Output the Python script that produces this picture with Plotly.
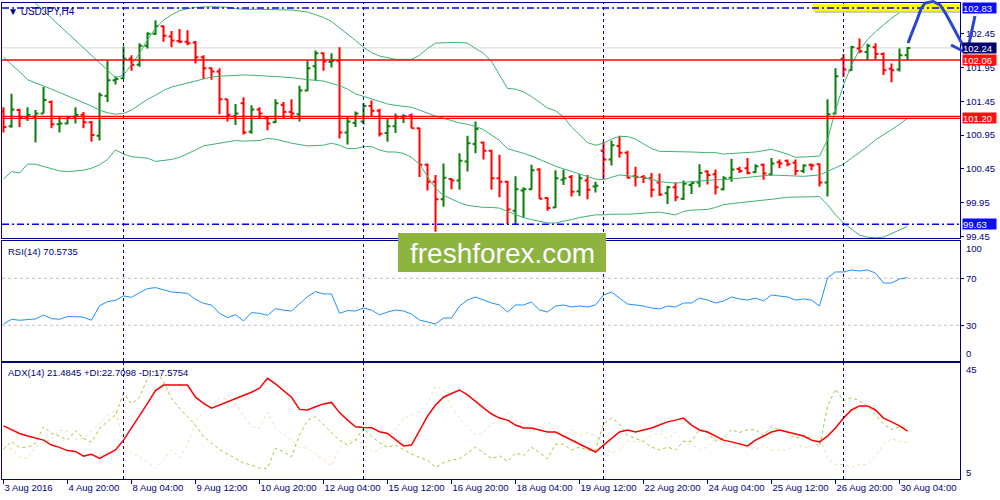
import plotly.graph_objects as go

# ---------------- data ----------------
tick_labels = ["3 Aug 2016", "4 Aug 20:00", "8 Aug 04:00", "9 Aug 12:00", "10 Aug 20:00",
               "12 Aug 04:00", "15 Aug 12:00", "16 Aug 20:00", "18 Aug 04:00", "19 Aug 12:00",
               "22 Aug 20:00", "24 Aug 04:00", "25 Aug 12:00", "26 Aug 20:00", "30 Aug 04:00"]
week_start_bars = [15, 45, 75, 105]

opens = [101.30,101.08,101.32,101.20,101.22,101.27,101.44,101.11,101.12,101.22,
         101.25,101.14,100.94,101.53,101.76,101.79,102.08,101.99,102.27,102.45,
         102.56,102.41,102.34,102.33,102.32,102.10,101.94,101.89,101.48,101.23,
         101.42,101.00,101.33,101.20,101.14,101.40,101.29,101.26,101.61,101.97,
         102.16,102.03,102.05,100.99,101.13,101.15,101.38,101.31,100.98,101.08,
         101.22,101.24,101.05,100.51,100.26,100.00,100.30,100.28,100.56,100.82,
         100.84,100.72,100.31,100.26,99.83,100.13,100.15,100.44,100.02,99.88,
         100.29,100.33,100.12,100.28,100.19,100.72,100.59,100.79,100.69,100.34,
         100.33,100.31,100.25,100.09,100.18,100.01,100.21,100.25,100.41,100.37,
         100.15,100.32,100.45,100.46,100.40,100.51,100.37,100.55,100.57,100.54,
         100.42,100.51,100.52,100.25,101.27,102.08,101.91,102.23,102.18,102.25,
         102.15,101.93,101.92,102.13]
highs = [101.36,101.56,101.34,101.36,101.32,101.66,101.46,101.22,101.22,101.36,
         101.29,101.16,101.58,102.05,101.82,102.26,102.13,102.31,102.47,102.65,
         102.57,102.49,102.52,102.50,102.34,102.13,101.95,101.94,101.48,101.41,
         101.51,101.39,101.36,101.23,101.48,101.44,101.48,101.68,102.05,102.20,
         102.17,102.16,102.25,101.22,101.30,101.42,101.46,101.34,101.19,101.27,
         101.26,101.27,101.06,100.53,100.36,100.53,100.31,100.68,100.94,101.15,
         100.85,100.73,100.66,100.27,100.34,100.18,100.51,100.46,100.03,100.43,
         100.44,100.36,100.37,100.36,100.26,100.85,100.87,100.94,100.72,100.48,
         100.36,100.39,100.38,100.20,100.25,100.28,100.25,100.52,100.43,100.44,
         100.34,100.60,100.48,100.61,100.52,100.53,100.61,100.59,100.59,100.59,
         100.52,100.53,100.53,101.48,101.94,102.15,102.27,102.38,102.30,102.31,
         102.17,102.01,102.23,102.25]
lows = [100.99,101.06,101.07,101.16,100.84,101.27,101.05,100.99,101.11,101.12,
        101.05,100.85,100.87,101.44,101.70,101.78,101.90,101.96,102.23,102.43,
        102.33,102.25,102.31,102.28,102.01,101.78,101.77,101.26,101.15,101.10,
        100.96,100.97,101.19,101.02,101.13,101.19,101.19,101.15,101.60,101.75,
        101.90,101.95,100.90,100.81,101.07,101.11,101.23,100.93,100.85,100.98,
        101.13,101.05,100.33,100.13,99.52,99.89,100.15,100.14,100.41,100.68,
        100.59,100.14,100.03,99.63,99.63,99.73,100.14,100.01,99.83,99.87,
        100.21,100.04,100.05,100.00,100.10,100.30,100.50,100.62,100.31,100.19,
        100.24,100.03,100.05,99.93,99.97,99.99,100.08,100.18,100.22,100.07,
        100.13,100.26,100.39,100.37,100.39,100.29,100.35,100.46,100.49,100.36,
        100.39,100.43,100.19,100.04,101.26,101.81,101.90,102.16,102.06,102.07,
        101.84,101.73,101.89,102.06]
closes = [101.07,101.33,101.21,101.25,101.27,101.47,101.11,101.12,101.21,101.25,
          101.14,100.95,101.54,101.76,101.78,102.08,101.99,102.27,102.45,102.56,
          102.42,102.35,102.33,102.31,102.10,101.94,101.89,101.48,101.25,101.27,
          100.99,101.33,101.27,101.12,101.42,101.29,101.27,101.61,101.94,102.16,
          102.04,102.05,100.99,101.15,101.27,101.38,101.31,100.97,101.08,101.22,
          101.23,101.05,100.51,100.26,100.00,100.32,100.28,100.57,100.83,101.04,
          100.72,100.31,100.26,99.85,100.15,100.15,100.43,100.01,99.87,100.31,
          100.31,100.11,100.31,100.14,100.20,100.59,100.80,100.69,100.32,100.33,
          100.32,100.14,100.07,100.18,100.03,100.23,100.24,100.39,100.36,100.18,
          100.31,100.44,100.42,100.39,100.49,100.38,100.53,100.53,100.52,100.42,
          100.50,100.50,100.25,101.26,101.82,101.92,102.25,102.19,102.27,102.15,
          101.91,101.91,102.13,102.24]

bb_up_x = [0,2,4,6,8,10,12,13,14,15,16,17,18,19,20,21,22,23,24,26,28,29,30,32,34,36,38,40,
           41,42,43,44,45,46,47,48,49,50,51,52,53,54,55,56,57,58,59,60,61,62,63,64,65,66,67,
           68,69,70,71,72,73,74,75,76,77,78,79,80,81,82,84,86,88,89,90,92,94,96,98,99,100,101,
           102,103,104,105,106,107,108,109,110,111,112,113]
bb_up = [103.92,103.39,102.90,102.68,102.46,102.23,102.01,101.91,101.80,101.84,101.99,102.16,
         102.36,102.53,102.65,102.73,102.79,102.82,102.84,102.85,102.84,102.82,102.81,102.81,
         102.81,102.80,102.77,102.69,102.63,102.54,102.45,102.35,102.25,102.17,102.12,102.09,
         102.07,102.07,102.07,102.13,102.23,102.31,102.32,102.32,102.32,102.31,102.23,102.16,
         102.04,101.84,101.64,101.63,101.59,101.52,101.44,101.35,101.31,101.22,101.07,100.95,
         100.84,100.80,100.83,100.89,100.93,100.93,100.89,100.82,100.75,100.71,100.71,100.70,
         100.69,100.69,100.67,100.68,100.70,100.74,100.67,100.62,100.63,100.64,100.64,100.88,
         101.32,101.69,101.99,102.21,102.36,102.48,102.58,102.68,102.76,102.84]
bb_mid_x = list(range(0, 30)) + [30,32,34,36,38,40,42] + list(range(43, 90)) + \
           [90,92,94,96,98,100,102] + list(range(103, 114))
bb_mid = [102.11,101.99,101.89,101.77,101.72,101.68,101.63,101.58,101.53,101.49,
          101.44,101.38,101.32,101.28,101.26,101.27,101.32,101.40,101.48,101.54,
          101.61,101.66,101.69,101.73,101.76,101.79,101.81,101.82,101.83,101.83,
          101.84,101.83,101.82,101.80,101.77,101.75,101.68,
          101.63,101.56,101.52,101.48,101.44,101.41,101.39,101.38,101.36,101.32,101.27,101.23,
          101.20,101.16,101.13,101.11,101.08,
          101.03,100.95,100.87,100.75,100.72,100.68,100.64,100.59,100.53,100.49,
          100.45,100.41,100.37,100.33,100.30,100.29,100.33,100.36,100.35,100.33,
          100.32,100.30,100.26,100.25,100.24,100.25,100.26,100.28,100.29,100.29,
          100.29,100.31,100.33,100.36,100.35,100.34,100.36,
          100.41,100.46,100.52,100.61,100.69,100.78,100.88,100.95,101.03,101.11,101.20]
bb_lo_x = list(range(0, 30)) + [30,32,33,34,36,38,40,41,42] + list(range(43, 77)) + \
          [78,80,82,84,85,86,87,88,89,90,92,94,96,98,100,101,102] + list(range(103, 114))
bb_lo = [100.30,100.41,100.39,100.52,100.52,100.49,100.45,100.42,100.41,100.42,
         100.43,100.46,100.51,100.59,100.73,100.67,100.63,100.62,100.61,100.56,
         100.57,100.59,100.62,100.67,100.73,100.79,100.81,100.82,100.84,100.87,
         100.86,100.87,100.90,100.89,100.83,100.79,100.80,100.83,100.80,
         100.75,100.75,100.78,100.78,100.73,100.70,100.70,100.68,100.62,100.52,100.33,
         100.16,100.06,100.00,99.95,99.91,99.89,
         99.88,99.88,99.87,99.82,99.77,99.73,99.70,99.67,99.65,99.65,99.67,99.70,
         99.73,99.75,99.77,99.77,99.78,
         99.78,99.79,99.81,99.77,99.82,99.84,99.85,99.85,99.88,
         99.92,99.95,99.97,100.00,100.03,100.04,100.04,100.04,
         99.92,99.77,99.65,99.56,99.47,99.44,99.43,99.44,99.49,99.54,99.60]

rsi = [31.1,35.1,34.3,34.8,35.4,38.8,35.7,35.1,37.4,37.4,36.8,34.3,46.7,50.1,51.3,55.0,
       53.8,57.8,61.2,62.1,60.1,58.4,57.8,57.2,52.1,48.7,47.3,40.2,36.5,39.1,33.7,40.8,
       40.2,38.5,44.2,42.8,42.2,48.2,54.4,58.7,56.7,56.7,40.2,42.5,
       42.2,44.7,43.0,38.8,41.3,43.0,42.2,39.6,34.5,32.8,
       31.1,36.2,36.2,46.4,51.5,54.1,51.5,49.0,47.3,41.3,
       47.3,47.3,49.8,43.0,41.3,46.4,47.3,45.6,46.4,45.6,
       47.3,55.8,58.3,53.2,48.1,47.3,46.4,44.7,43.9,46.4,
       45.6,49.0,49.0,53.2,51.5,49.0,50.7,54.1,52.4,51.5,
       53.2,50.7,55.8,54.9,54.1,51.5,52.4,51.5,46.4,70.3,
       75.4,75.4,77.1,76.2,77.1,74.5,66.0,66.0,69.4,70.57]
adx = [23.3,22.1,20.7,19.8,19.2,18.4,16.7,15.9,14.8,14.5,12.9,13.5,12.1,13.6,15.0,18.4,
       22.5,26.7,31.1,35.5,37.4,37.4,37.4,37.4,33.2,31.1,29.4,30.5,31.7,32.8,34.0,34.9,
       36.3,39.7,37.8,35.5,33.2,29.0,28.8,29.9,30.9,31.4,27.9,25.3,23.0,22.8,22.7,21.3,
       20.7,18.6,16.4,16.7,21.7,26.7,30.5,33.2,34.5,
       35.7,34.0,31.6,29.5,27.4,26.0,25.3,23.6,22.6,22.6,
       21.9,21.2,21.2,19.8,18.4,17.1,15.7,14.3,16.7,19.1,
       21.2,21.9,21.2,21.9,22.6,23.6,24.7,25.3,26.0,23.6,
       21.9,21.2,19.8,18.4,17.8,17.1,16.4,18.4,19.8,21.2,
       21.9,21.2,20.5,19.8,18.4,17.8,19.8,22.6,26.0,28.8,
       30.2,30.2,28.8,26.0,24.7,23.3,21.48]
plus_di = [15.2,17.9,15.9,15.9,17.3,23.0,20.7,19.8,18.4,21.7,19.0,17.7,22.5,24.8,27.1,34.5,
           30.9,33.2,39.7,42.6,38.6,32.8,29.4,26.5,23.6,19.6,17.3,15.2,13.6,12.1,10.6,9.8,
           8.7,8.7,15.6,14.4,12.7,20.2,25.3,26.5,23.6,21.0,18.4,16.7,18.4,22.5,19.8,17.5,
           15.9,16.7,15.2,13.6,12.4,11.5,9.0,10.6,11.5,
           12,14,16,14,12,13,11,14,13,16,
           14,12,17,17,15,16,15,15,24,26,
           24,20,19,18,16,15,16,15,18,18,
           22,21,18,19,22,21,22,22,20,23,
           22,21,19,20,19,16,30,36,32,33,
           32,30,27,24,22,23,22.71]
minus_di = [16.4,15.2,12.7,12.1,16.1,17.5,18.6,21.9,21.4,18.8,18.9,21.9,24.2,26.9,28.8,17.9,
            13.8,12.7,11.0,8.7,11.5,15.0,12.4,16.7,25.3,27.9,30.2,32.8,32.6,31.1,26.7,23.0,
            22.5,28.0,22.5,20.5,18.4,15.9,15.6,13.8,11.5,9.5,15.9,18.4,18.4,17.1,14.4,15.0,
            19.8,21.9,25.9,27.1,28.2,31.1,37.1,35.7,29.9,
            26,23,20,21,24,25,28,25,24,21,
            23,25,21,20,22,20,21,20,16,14,
            15,18,18,18,20,21,19,21,18,17,
            15,16,19,18,16,16,16,15,17,15,
            15,15,17,16,16,20,12,10,10,9,
            10,10,13,17,19,18,17.58]

price_ticks = [102.45, 101.95, 101.45, 100.95, 100.45, 99.95, 99.45]
level_high = 102.83
level_low = 99.63
level_res = 102.06
level_sup = 101.20
last_price = 102.24

# ---------------- styling ----------------
NAVY = "#000080"
GREEN = "#0b7d0b"
RED = "#ff0000"
BAND = "#3cb371"
FONT = "Liberation Sans"
bars = list(range(len(closes)))

# pixel geometry (figure 1000x500)
ML, MR, MT, MB = 2, 40, 3, 21
PW = 1000 - ML - MR
PH = 500 - MT - MB


def px(xp):
    return (xp - ML) / PW


def py(yp):
    return (500 - MB - yp) / PH


fig = go.Figure()

fig.add_trace(go.Ohlc(x=bars, open=opens, high=highs, low=lows, close=closes,
                      xaxis="x", yaxis="y", tickwidth=0.36,
                      increasing=dict(line=dict(color=GREEN, width=2)),
                      decreasing=dict(line=dict(color=RED, width=2)),
                      hoverinfo="skip", showlegend=False))
for bx, by in [(bb_up_x, bb_up), (bb_mid_x, bb_mid), (bb_lo_x, bb_lo)]:
    fig.add_trace(go.Scatter(x=bx, y=by, mode="lines", line=dict(color=BAND, width=1),
                             xaxis="x", yaxis="y", hoverinfo="skip", showlegend=False))

fig.add_trace(go.Scatter(x=bars, y=rsi, mode="lines", line=dict(color="#1e90ff", width=1),
                         xaxis="x2", yaxis="y2", hoverinfo="skip", showlegend=False))

fig.add_trace(go.Scatter(x=bars, y=minus_di, mode="lines",
                         line=dict(color="#f5deb3", width=1, dash="3px,3px"),
                         xaxis="x3", yaxis="y3", hoverinfo="skip", showlegend=False))
fig.add_trace(go.Scatter(x=bars, y=plus_di, mode="lines",
                         line=dict(color="#9acd32", width=1, dash="3px,3px"),
                         xaxis="x3", yaxis="y3", hoverinfo="skip", showlegend=False))
fig.add_trace(go.Scatter(x=bars, y=adx, mode="lines", line=dict(color=RED, width=1.5),
                         xaxis="x3", yaxis="y3", hoverinfo="skip", showlegend=False))

xr = [-(3.5 - ML) / 8.0, (1000 - MR - 3.5) / 8.0]
common_x = dict(range=xr, showgrid=False, zeroline=False, showline=True, mirror=True,
                linecolor=NAVY, linewidth=1, fixedrange=True, automargin=False)
common_y = dict(showgrid=False, zeroline=False, showline=True, mirror=True, linecolor=NAVY,
                linewidth=1, side="right", ticks="outside", ticklen=3, tickcolor=NAVY,
                tickfont=dict(family=FONT, size=9.5, color=NAVY), fixedrange=True,
                automargin=False)

fig.update_layout(
    width=1000, height=500,
    margin=dict(l=ML, r=MR, t=MT, b=MB, autoexpand=False),
    paper_bgcolor="white", plot_bgcolor="white",
    hovermode=False, showlegend=False,
    font=dict(family=FONT, size=9.5, color=NAVY),
    xaxis=dict(common_x, anchor="y", showticklabels=False, ticks="",
               rangeslider=dict(visible=False)),
    xaxis2=dict(common_x, anchor="y2", matches="x", showticklabels=False, ticks=""),
    xaxis3=dict(common_x, anchor="y3", matches="x",
                tickvals=[8 * k for k in range(len(tick_labels))], ticktext=tick_labels,
                ticks="outside", ticklen=4, tickcolor=NAVY, ticklabelposition="outside right",
                tickangle=0, tickfont=dict(family=FONT, size=9.5, color=NAVY)),
    yaxis=dict(common_y, domain=[py(238), 1.0],
               range=[level_high - (238 - 8) / 67.6, level_high + (8 - 3) / 67.6],
               tickvals=price_ticks, ticktext=[f"{v:.2f}" for v in price_ticks]),
    yaxis2=dict(common_y, domain=[py(361), py(241)],
                range=[70 - (361 - 278.3) / 1.175, 70 + (278.3 - 241) / 1.175],
                tickvals=[70, 30], ticktext=["70", "30"]),
    yaxis3=dict(common_y, domain=[0, py(363)], range=[5, 45], tickvals=[], ticks=""),
)

shapes = []
# weekly separators
for b in week_start_bars:
    for xa, ya in [("x", "y"), ("x2", "y2"), ("x3", "y3")]:
        shapes.append(dict(type="line", xref=xa, yref=f"{ya} domain", x0=b, x1=b, y0=0, y1=1,
                           line=dict(color=NAVY, width=1, dash="3px,3px"), layer="above"))
# RSI levels
for lv in [70, 30]:
    shapes.append(dict(type="line", xref="x2 domain", yref="y2", x0=0, x1=1, y0=lv, y1=lv,
                       line=dict(color="#c0c0c0", width=1, dash="3px,3px"), layer="below"))
# bid line
shapes.append(dict(type="line", xref="x domain", yref="y", x0=0, x1=1, y0=last_price,
                   y1=last_price, line=dict(color="#d4d4d4", width=1), layer="below"))
# yellow highlight near top level
shapes.append(dict(type="rect", xref="paper", yref="paper", x0=px(815), x1=px(960),
                   y0=py(13), y1=py(10.5), fillcolor="#c8c8c8", line=dict(width=0),
                   layer="above"))
shapes.append(dict(type="rect", xref="paper", yref="paper", x0=px(813), x1=px(960),
                   y0=py(11), y1=py(4), fillcolor="#ffff00", line=dict(width=0),
                   layer="above"))
# horizontal levels
for lv in [level_high, level_low]:
    shapes.append(dict(type="line", xref="x domain", yref="y", x0=0, x1=1, y0=lv, y1=lv,
                       line=dict(color="#0000ff", width=1.5, dash="7px,3px,2px,3px"),
                       layer="above"))
shapes.append(dict(type="line", xref="x domain", yref="y", x0=0, x1=1, y0=level_res,
                   y1=level_res, line=dict(color=RED, width=1.5), layer="above"))
for off in [0.027, -0.003]:
    shapes.append(dict(type="line", xref="x domain", yref="y", x0=0, x1=1,
                       y0=level_sup + off, y1=level_sup + off,
                       line=dict(color=RED, width=1.3), layer="above"))

# hand-drawn blue arrow
arrow_pts = [(908, 43), (913, 30), (917, 20), (921, 9), (925, 3), (933, 1.5), (940, 5),
             (946, 14), (952, 25), (960, 40), (967, 53)]
path = "M " + " L ".join(f"{px(a):.5f},{py(b):.5f}" for a, b in arrow_pts)
shapes.append(dict(type="path", xref="paper", yref="paper", path=path,
                   line=dict(color="#2a44d6", width=3), layer="above"))
for a, b in [(951, 45), (975, 16)]:
    shapes.append(dict(type="line", xref="paper", yref="paper", x0=px(967), y0=py(53),
                       x1=px(a), y1=py(b), line=dict(color="#2a44d6", width=3),
                       layer="above"))

# watermark box
shapes.append(dict(type="rect", xref="paper", yref="paper", x0=px(398), x1=px(606),
                   y0=py(272), y1=py(233), fillcolor="#8cb43f", line=dict(width=0),
                   layer="above"))
fig.update_layout(shapes=shapes)

ann = []
ann.append(dict(xref="paper", yref="paper", x=px(6), y=py(11), xanchor="left",
                yanchor="middle", showarrow=False, text="▼ USDJPY,H4",
                font=dict(family=FONT, size=10, color=NAVY)))
ann.append(dict(xref="paper", yref="paper", x=px(6), y=py(252), xanchor="left",
                yanchor="middle", showarrow=False, text="RSI(14) 70.5735",
                font=dict(family=FONT, size=9.5, color=NAVY)))
ann.append(dict(xref="paper", yref="paper", x=px(6), y=py(372), xanchor="left",
                yanchor="middle", showarrow=False,
                text="ADX(14) 21.4845 +DI:22.7098 -DI:17.5754",
                font=dict(family=FONT, size=9.5, color=NAVY)))
# edge labels of indicator panels
for txt, yy in [("100", 249), ("0", 353), ("45", 369.5), ("5", 472.5)]:
    ann.append(dict(xref="paper", yref="paper", x=1, xshift=4, y=py(yy), xanchor="left",
                    yanchor="middle", showarrow=False, text=txt,
                    font=dict(family=FONT, size=9.5, color=NAVY)))
# price boxes
for val, col in [(level_high, "#0a0aff"), (level_res, "#ff1010"), (last_price, "#00006e"),
                 (level_sup, "#ff1010"), (level_low, "#0a0aff")]:
    ann.append(dict(xref="paper", yref="y", x=1, xshift=2, y=val, xanchor="left",
                    yanchor="middle", showarrow=False, text=f"{val:.2f}", bgcolor=col,
                    width=33, height=10, align="left", borderpad=0,
                    font=dict(family=FONT, size=9.5, color="white")))
ann.append(dict(xref="paper", yref="paper", x=(px(398) + px(606)) / 2, y=py(253),
                xanchor="center", yanchor="middle", showarrow=False, text="freshforex.com",
                font=dict(family=FONT, size=28, color="white")))
fig.update_layout(annotations=ann)

fig.write_html("out.html", config={"displayModeBar": False, "staticPlot": True},
               post_script="document.body.style.margin='0';document.body.style.padding='0';"
                           "document.body.style.overflow='hidden';")
